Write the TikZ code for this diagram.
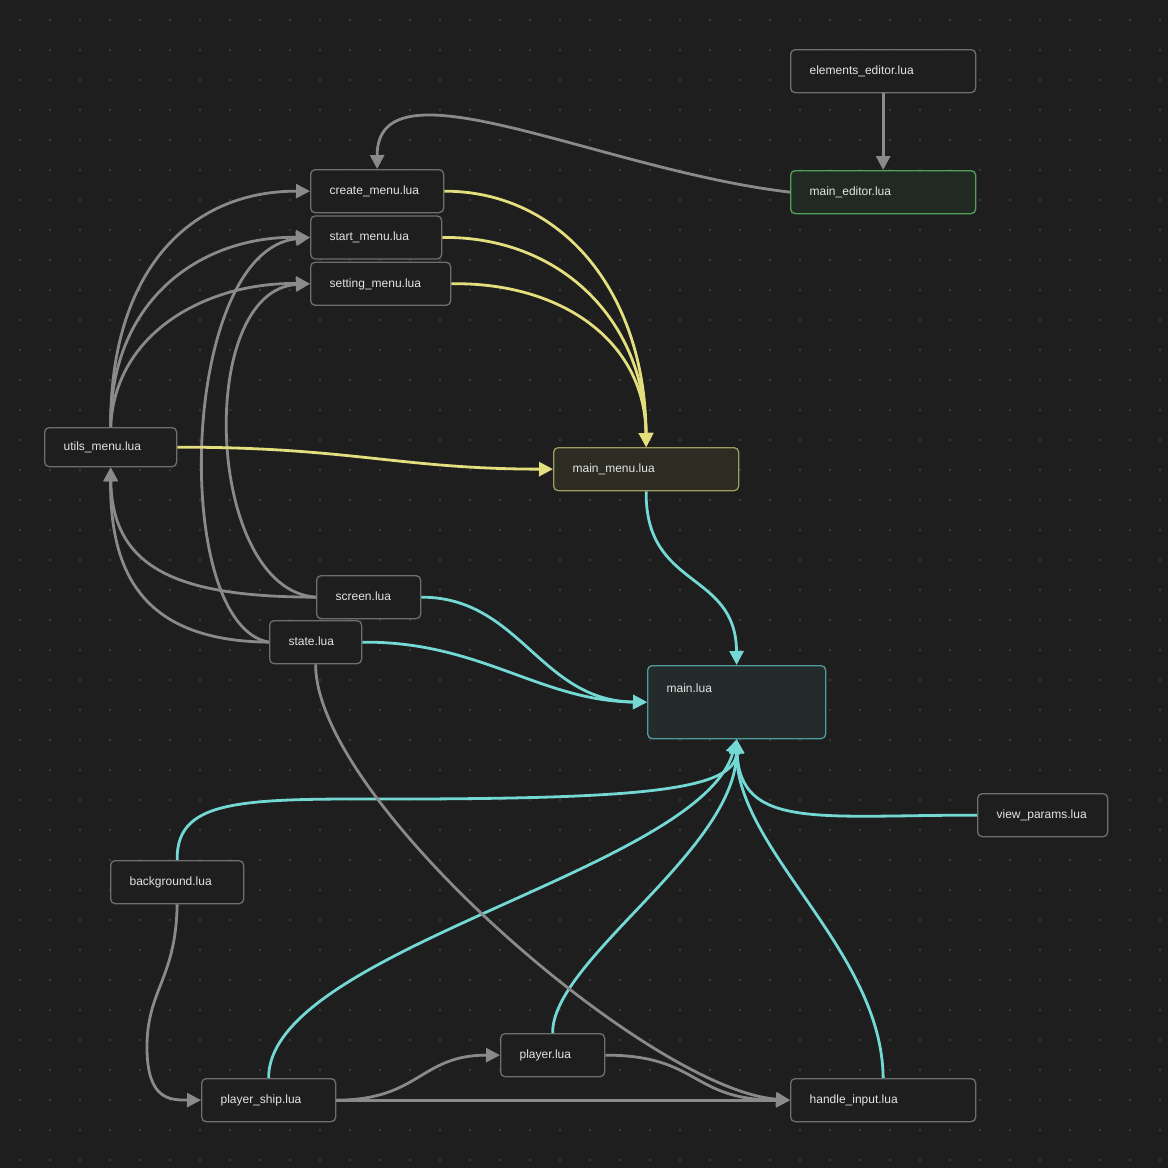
\documentclass[tikz,border=0pt]{standalone}
\usepackage{fontspec}
\setmainfont{Liberation Sans}
\usetikzlibrary{arrows.meta,positioning,calc}
\definecolor{canvas}{HTML}{1E1E1E}
\definecolor{griddot}{HTML}{3A3A3A}
\definecolor{boxline}{HTML}{6E6E6E}
\definecolor{boxtext}{HTML}{E4E4E4}
\definecolor{linkgray}{HTML}{8A8A8A}
\definecolor{linkyellow}{HTML}{E3DE7E}
\definecolor{linkteal}{HTML}{74D9D5}
\definecolor{menuline}{HTML}{9E9B62}
\definecolor{menufill}{HTML}{2D2C23}
\definecolor{editorline}{HTML}{52A05A}
\definecolor{editorfill}{HTML}{212A22}
\definecolor{entryline}{HTML}{4F9B9B}
\definecolor{entryfill}{HTML}{232B2B}
\tikzset{
luafile/.style = {draw=boxline, fill=canvas, rounded corners=4.5pt, line width=1.3pt, text=boxtext,
  font=\fontsize{12}{14}\selectfont, align=left, inner xsep=19pt, inner ysep=15.5pt,
  text height=9.5pt, text depth=2.5pt, anchor=north west},
menufile/.style = {luafile, draw=menuline, fill=menufill},
editorfile/.style = {luafile, draw=editorline, fill=editorfill},
entryfile/.style = {luafile, draw=entryline, fill=entryfill, inner ysep=15pt, text height=11.5pt, text depth=31.5pt},
dep/.style = {draw=linkgray, line width=2.8pt, -{Triangle[length=14pt,width=14pt]}},
menudep/.style = {dep, draw=linkyellow},
maindep/.style = {dep, draw=linkteal}
}
\begin{document}
\begin{tikzpicture}[x=1pt, y=-1pt]
  \useasboundingbox [fill=canvas] (0,0) rectangle (1168,1168);
  % dotted canvas
  \foreach \i in {0,...,38}
    \foreach \j in {0,...,38}
      \fill [griddot] ({20+30*\i},{20+30*\j}) circle (1.3pt);

  \node [luafile, text width=147pt] (elementseditor) at (790,49) {elements\_editor.lua};
  \node [editorfile, text width=147pt] (maineditor) at (790,170) {main\_editor.lua};
  \node [luafile, text width=95pt] (createmenu) at (310,169) {create\_menu.lua};
  \node [luafile, text width=93pt, below=2pt of createmenu.south west, anchor=north west] (startmenu) {start\_menu.lua};
  \node [luafile, text width=102pt, below=2pt of startmenu.south west, anchor=north west] (settingmenu) {setting\_menu.lua};
  \node [luafile, text width=94pt, inner ysep=13.5pt] (utilsmenu) at (44,427) {utils\_menu.lua};
  \node [menufile, text width=147pt] (mainmenu) at (553,447) {main\_menu.lua};
  \node [luafile, text width=66pt] (screenfile) at (316,575) {screen.lua};
  \node [luafile, text width=54pt] (statefile) at (269,620) {state.lua};
  \node [entryfile, text width=140pt] (mainfile) at (647,665) {main.lua};
  \node [luafile, text width=92pt] (viewparams) at (977,793) {view\_params.lua};
  \node [luafile, text width=95pt] (background) at (110,860) {background.lua};
  \node [luafile, text width=66pt] (player) at (500,1033) {player.lua};
  \node [luafile, text width=96pt] (playership) at (201,1078) {player\_ship.lua};
  \node [luafile, text width=147pt] (handleinput) at (790,1078) {handle\_input.lua};

  % editor
  \draw [dep] (elementseditor.south) -- (maineditor.north);
  \draw [dep] (maineditor.west) .. controls (600,170) and (377,55) .. (createmenu.north);
  % menus
  \draw [dep] (utilsmenu.north) .. controls (110,270) and (190,191) .. (createmenu.west);
  \draw [dep] (utilsmenu.north) .. controls (110,300) and (200,236) .. (startmenu.west);
  \draw [dep] (utilsmenu.north) .. controls (115,330) and (210,282) .. (settingmenu.west);
  \draw [dep] (statefile.west) .. controls (170,625) and (180,250) .. (startmenu.west);
  \draw [dep] (screenfile.west) .. controls (205,590) and (195,290) .. (settingmenu.west);
  \draw [dep] (screenfile.west) .. controls (180,597) and (112,570) .. (utilsmenu.south);
  \draw [dep] (statefile.west) .. controls (140,641) and (110,570) .. (utilsmenu.south);
  \draw [menudep] (createmenu.east) .. controls (560,191) and (645,290) .. (mainmenu.north);
  \draw [menudep] (startmenu.east) .. controls (560,236) and (645,320) .. (mainmenu.north);
  \draw [menudep] (settingmenu.east) .. controls (560,282) and (645,340) .. (mainmenu.north);
  \draw [menudep] (utilsmenu.east) .. controls (350,447) and (400,469) .. (mainmenu.west);
  % main
  \draw [maindep] (mainmenu.south) .. controls (645,590) and (736,570) .. (mainfile.north);
  \draw [maindep] (screenfile.east) .. controls (520,597) and (540,701) .. (mainfile.west);
  \draw [maindep] (statefile.east) .. controls (480,641) and (540,701) .. (mainfile.west);
  \draw [maindep] (background.north) .. controls (176,795) and (250,799) .. (420,799)
    .. controls (640,798) and (736,790) .. (mainfile.south);
  \draw [maindep] (playership.north) .. controls (268,950) and (700,870) .. (mainfile.south);
  \draw [maindep] (player.north) .. controls (552,960) and (736,850) .. (mainfile.south);
  \draw [maindep] (handleinput.north) .. controls (882,950) and (736,850) .. (mainfile.south);
  \draw [maindep] (viewparams.west) .. controls (820,815) and (740,830) .. (mainfile.south);
  % game
  \draw [dep] (background.south) .. controls (176,980) and (146,990) .. (147,1050)
    .. controls (148,1100) and (170,1100) .. (playership.west);
  \draw [dep] (playership.east) .. controls (420,1100) and (420,1055) .. (player.west);
  \draw [dep] (playership.east) -- (handleinput.west);
  \draw [dep] (player.east) .. controls (700,1055) and (690,1100) .. (handleinput.west);
  \draw [dep] (statefile.south) .. controls (315,800) and (650,1090) .. (handleinput.west);
\end{tikzpicture}
\end{document}
